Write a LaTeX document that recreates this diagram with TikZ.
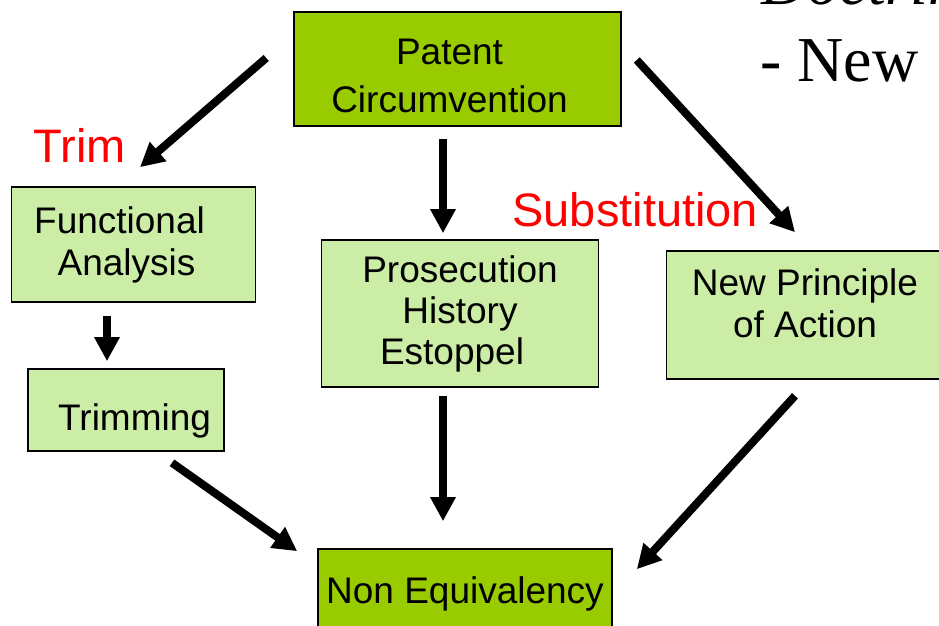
\documentclass[tikz,border=0pt]{standalone}
\usepackage{fontspec}
\newfontfamily\arialfont{Liberation Sans}
\newfontfamily\timesfont{Liberation Serif}
\usetikzlibrary{arrows.meta}
\definecolor{darkgreen}{HTML}{99CC00}
\definecolor{lightgreen}{HTML}{CCEDA6}

\begin{document}
\begin{tikzpicture}[x=0.5pt,y=-0.5pt]
    \tikzstyle{box}=[draw,line width=0.8pt,align=center,inner sep=3pt,
      font=\arialfont\fontsize{18.5}{21}\selectfont];
    \tikzstyle{dark}=[box,fill=darkgreen];
    \tikzstyle{light}=[box,fill=lightgreen];
    \tikzstyle{red label}=[text=red,inner sep=0pt,anchor=base west,
      font=\arialfont\fontsize{23.5}{26}\selectfont];
    \tikzstyle{serif label}=[inner sep=0pt,anchor=base west,
      font=\timesfont\fontsize{32}{36}\selectfont];
    \tikzstyle{arr}=[line width=4pt,-{Triangle[length=12pt,width=12pt]}];
    \useasboundingbox (0,0) rectangle (939,626);
    \clip (0,0) rectangle (939,626);
    %boxes
    \node[dark,minimum width=163.5pt,minimum height=57pt,
      font=\arialfont\fontsize{18.5}{24}\selectfont] (pc) at (457.5,69)
      {\rule{0pt}{20pt}Patent\hspace*{8pt}\\Circumvention\hspace*{8pt}};
    \node[light,minimum width=122pt,minimum height=57.5pt] (fa) at (133.5,244.5)
      {Functional\hspace*{14pt}\\Analysis\hspace*{7pt}};
    \node[light,minimum width=98pt,minimum height=41pt,text width=85pt,align=right,
      text height=24pt,text depth=3.3pt] (tr) at (126,410) {Trimming};
    \node[light,minimum width=138.5pt,minimum height=73.5pt,
      font=\arialfont\fontsize{18.5}{20.5}\selectfont] (ph) at (460,313.5)
      {Prosecution\\History\hspace*{6pt}\\Estoppel\hspace*{8pt}};
    \node[light,minimum width=138.5pt,minimum height=64pt] (np) at (805,315)
      {New Principle\\of Action\rule[-11.9pt]{0pt}{11.9pt}};
    \node[dark,minimum width=147pt,minimum height=45pt] (ne) at (465,594) {Non Equivalency};
    %labels
    \node[red label] (trim) at (33,163) {Trim};
    \node[red label] (subst) at (512,227) {Substitution};
    \node[serif label] (doctrine) at (761,5) {\itshape Doctrine};
    \node[serif label] (newp) at (760,82) {- New};
    %arrows
    \draw[arr] ([shift={(-27,-11)}]pc.west) -- ([shift={(6.5,-19)}]fa.north);
    \draw[arr] ([shift={(-14.5,12)}]pc.south) -- ([shift={(-17,-6)}]ph.north);
    \draw[arr] ([shift={(15,-9)}]pc.east) -- ([shift={(-10,-18)}]np.north);
    \draw[arr] ([shift={(-26.5,13)}]fa.south) -- ([shift={(-19,-7)}]tr.north);
    \draw[arr] ([shift={(46,11)}]tr.south) -- ([shift={(-20,3)}]ne.north west);
    \draw[arr] ([shift={(-17,8)}]ph.south) -- ([shift={(-22,-27)}]ne.north);
    \draw[arr] ([shift={(-10,16)}]np.south) -- ([shift={(24,21)}]ne.north east);
\end{tikzpicture}
\end{document}
